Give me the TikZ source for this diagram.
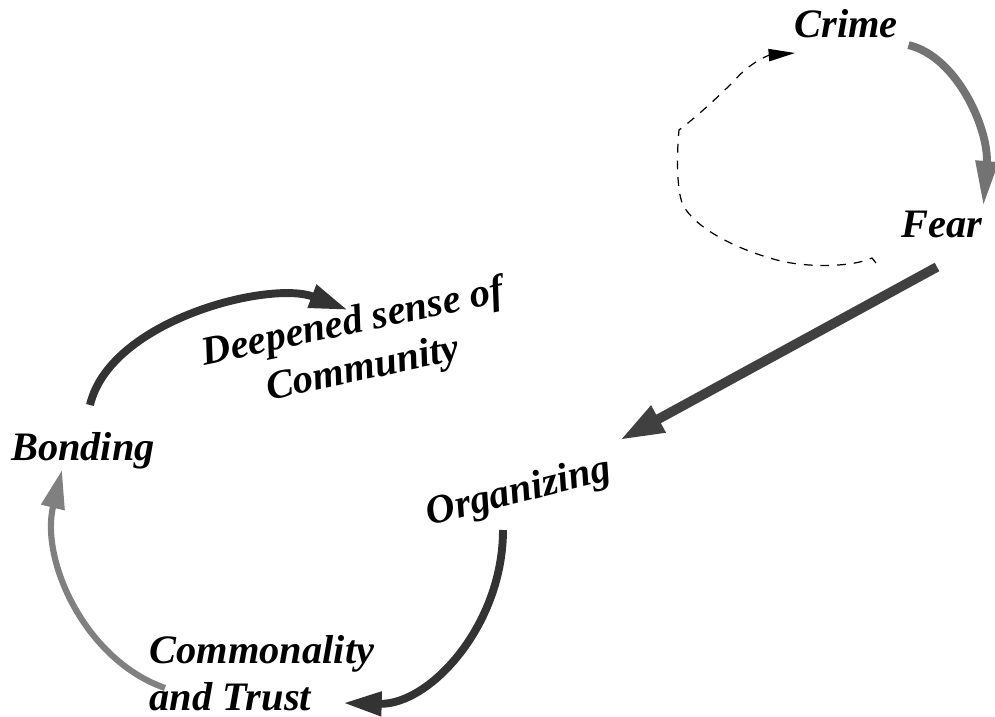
\documentclass[tikz,border=0pt]{standalone}
\usepackage{fontspec}
\setmainfont{Liberation Serif}[BoldItalicFont={Liberation Serif Bold Italic}]
\usetikzlibrary{arrows.meta}

\begin{document}
\begin{tikzpicture}[x=0.02cm,y=-0.02cm,
    lbl/.style={font=\fontsize{23}{27}\selectfont\bfseries\itshape, inner sep=2pt},
    thickarc/.style={line width=4.5pt, -{Triangle[length=22pt,width=13pt]}},
    dasharc/.style={line width=0.7pt, dash pattern=on 5pt off 4.5pt, -{Triangle[length=15pt,width=7pt]}}]
    \useasboundingbox (0,0) rectangle (995,717);
    \node[lbl] (crime) at (846,24) {Crime};
    \node[lbl] (fear) at (942,224) {Fear};
    \node[lbl,rotate=12,align=center] (deep) at (358,347) {Deepened sense of\\Community};
    \node[lbl] (bonding) at (83,451) {Bonding};
    \node[lbl,rotate=14] (org) at (519,493) {Organizing};
    \node[lbl,align=left] (common) at (262,673) {Commonality\\and Trust};
    \draw[thickarc,black!55,-{Triangle[length=26pt,width=12pt]}] ([shift={(7,3)}]crime.south east) .. controls +(50,12) and +(6,-75) .. ([shift={(-3,0)}]fear.north east);
    \draw[dasharc] ([shift={(-66,39)}]fear.center) -- (872,258) .. controls (850,268) and (800,268) .. (770,258)
        .. controls (735,248) and (695,228) .. (683,205) .. controls (676,190) and (677,150) .. (679,130)
        .. controls (695,118) and (715,100) .. (735,80) .. controls (750,62) and (770,55) .. ([shift={(-51,29)}]crime.center);
    \draw[thickarc,line width=5.5pt,black!75,-{Triangle[length=25pt,width=16pt]}] ([shift={(-5,43)}]fear.center) -- ([shift={(101,-53)}]org.center);
    \draw[thickarc,black!80] ([shift={(7,-46)}]bonding.center) .. controls +(20,-85) and +(-78,-30) .. ([shift={(-10,-37)}]deep.center);
    \draw[thickarc,black!80] ([shift={(-16,37)}]org.center) .. controls +(0,95) and +(87,2) .. ([shift={(81,30)}]common.center);
    \draw[thickarc,line width=3.5pt,black!50] ([shift={(-97,15)}]common.center) .. controls +(-80,-28) and +(-22,90) .. ([shift={(-21,19)}]bonding.center);
\end{tikzpicture}
\end{document}
